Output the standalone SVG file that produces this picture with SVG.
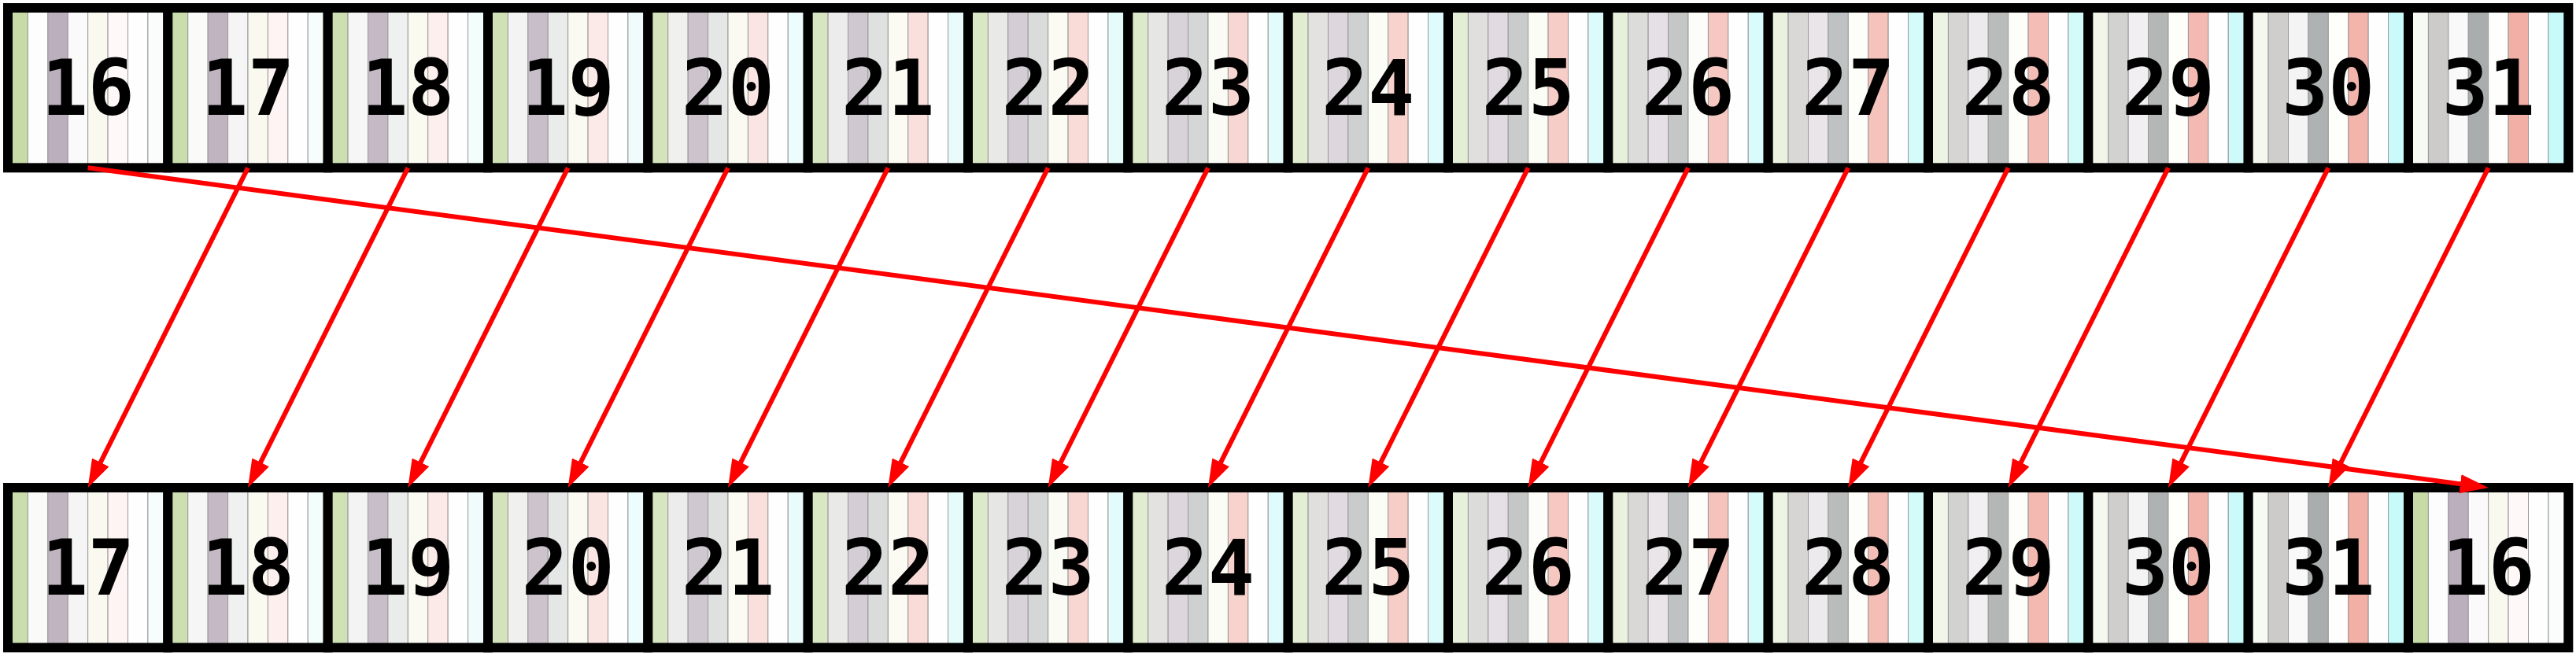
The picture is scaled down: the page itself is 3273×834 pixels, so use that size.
<svg xmlns="http://www.w3.org/2000/svg" xmlns:xlink="http://www.w3.org/1999/xlink" width="3273" height="834" viewBox="0 0 3273 834">
<style>
.st rect{stroke:#999999;stroke-width:1}
.cell{fill:none;stroke:#000000;stroke-width:12}
.lbl{font-family:"DejaVu Sans Mono","Liberation Mono",monospace;font-weight:bold;font-size:98px;fill:#000000;text-anchor:middle}
.conn line{stroke:#ff0000;stroke-width:6;fill:none;marker-end:url(#ah)}
</style>
<defs>
<marker id="ah" markerUnits="userSpaceOnUse" markerWidth="36" markerHeight="24" refX="16" refY="12" orient="auto" viewBox="0 0 36 24"><path d="M0,0 L36,12 L0,24 Z" fill="#ff0000"/></marker>
<g id="s16" class="st"><rect x="0" width="25.417" height="203.333" fill="#c7dba7"/><rect x="25.417" width="25.417" height="203.333" fill="#fdfdfd"/><rect x="50.833" width="25.417" height="203.333" fill="#bcafbd"/><rect x="76.25" width="25.417" height="203.333" fill="#fafafa"/><rect x="101.667" width="25.417" height="203.333" fill="#f9f9ef"/><rect x="127.083" width="25.417" height="203.333" fill="#fef9f8"/><rect x="152.5" width="25.417" height="203.333" fill="#fefefe"/><rect x="177.917" width="25.417" height="203.333" fill="#fafdfc"/></g>
<g id="s17" class="st"><rect x="0" width="25.417" height="203.333" fill="#caddac"/><rect x="25.417" width="25.417" height="203.333" fill="#fafaf9"/><rect x="50.833" width="25.417" height="203.333" fill="#c0b4c1"/><rect x="76.25" width="25.417" height="203.333" fill="#f5f5f5"/><rect x="101.667" width="25.417" height="203.333" fill="#f9f9f0"/><rect x="127.083" width="25.417" height="203.333" fill="#fdf4f3"/><rect x="152.5" width="25.417" height="203.333" fill="#fefefe"/><rect x="177.917" width="25.417" height="203.333" fill="#f7fdfc"/></g>
<g id="s18" class="st"><rect x="0" width="25.417" height="203.333" fill="#cddfb1"/><rect x="25.417" width="25.417" height="203.333" fill="#f7f6f6"/><rect x="50.833" width="25.417" height="203.333" fill="#c4b9c5"/><rect x="76.25" width="25.417" height="203.333" fill="#eff0f0"/><rect x="101.667" width="25.417" height="203.333" fill="#fafaf1"/><rect x="127.083" width="25.417" height="203.333" fill="#fcefed"/><rect x="152.5" width="25.417" height="203.333" fill="#fefefe"/><rect x="177.917" width="25.417" height="203.333" fill="#f3fdfc"/></g>
<g id="s19" class="st"><rect x="0" width="25.417" height="203.333" fill="#d1e1b6"/><rect x="25.417" width="25.417" height="203.333" fill="#f3f3f3"/><rect x="50.833" width="25.417" height="203.333" fill="#c8bec9"/><rect x="76.25" width="25.417" height="203.333" fill="#eaebeb"/><rect x="101.667" width="25.417" height="203.333" fill="#fafaf2"/><rect x="127.083" width="25.417" height="203.333" fill="#fceae8"/><rect x="152.5" width="25.417" height="203.333" fill="#fefefe"/><rect x="177.917" width="25.417" height="203.333" fill="#f0fcfc"/></g>
<g id="s20" class="st"><rect x="0" width="25.417" height="203.333" fill="#d4e3bb"/><rect x="25.417" width="25.417" height="203.333" fill="#f0f0ef"/><rect x="50.833" width="25.417" height="203.333" fill="#ccc3cd"/><rect x="76.25" width="25.417" height="203.333" fill="#e5e6e6"/><rect x="101.667" width="25.417" height="203.333" fill="#fafaf3"/><rect x="127.083" width="25.417" height="203.333" fill="#fbe5e2"/><rect x="152.5" width="25.417" height="203.333" fill="#fefefe"/><rect x="177.917" width="25.417" height="203.333" fill="#edfcfc"/></g>
<g id="s21" class="st"><rect x="0" width="25.417" height="203.333" fill="#d7e5c0"/><rect x="25.417" width="25.417" height="203.333" fill="#edecec"/><rect x="50.833" width="25.417" height="203.333" fill="#d0c8d1"/><rect x="76.25" width="25.417" height="203.333" fill="#dfe0e0"/><rect x="101.667" width="25.417" height="203.333" fill="#fbfbf3"/><rect x="127.083" width="25.417" height="203.333" fill="#fae0dd"/><rect x="152.5" width="25.417" height="203.333" fill="#fefefe"/><rect x="177.917" width="25.417" height="203.333" fill="#e9fcfb"/></g>
<g id="s22" class="st"><rect x="0" width="25.417" height="203.333" fill="#dae7c5"/><rect x="25.417" width="25.417" height="203.333" fill="#e9e9e8"/><rect x="50.833" width="25.417" height="203.333" fill="#d4cdd5"/><rect x="76.25" width="25.417" height="203.333" fill="#dadbdb"/><rect x="101.667" width="25.417" height="203.333" fill="#fbfbf4"/><rect x="127.083" width="25.417" height="203.333" fill="#f9dbd7"/><rect x="152.5" width="25.417" height="203.333" fill="#fefefe"/><rect x="177.917" width="25.417" height="203.333" fill="#e6fcfb"/></g>
<g id="s23" class="st"><rect x="0" width="25.417" height="203.333" fill="#dde9cb"/><rect x="25.417" width="25.417" height="203.333" fill="#e6e6e5"/><rect x="50.833" width="25.417" height="203.333" fill="#d8d2d9"/><rect x="76.25" width="25.417" height="203.333" fill="#d5d6d6"/><rect x="101.667" width="25.417" height="203.333" fill="#fbfbf5"/><rect x="127.083" width="25.417" height="203.333" fill="#f8d7d2"/><rect x="152.5" width="25.417" height="203.333" fill="#fefefe"/><rect x="177.917" width="25.417" height="203.333" fill="#e3fcfb"/></g>
<g id="s24" class="st"><rect x="0" width="25.417" height="203.333" fill="#e1ecd0"/><rect x="25.417" width="25.417" height="203.333" fill="#e3e2e1"/><rect x="50.833" width="25.417" height="203.333" fill="#ddd7dd"/><rect x="76.25" width="25.417" height="203.333" fill="#cfd1d1"/><rect x="101.667" width="25.417" height="203.333" fill="#fcfcf6"/><rect x="127.083" width="25.417" height="203.333" fill="#f8d2cc"/><rect x="152.5" width="25.417" height="203.333" fill="#fefefe"/><rect x="177.917" width="25.417" height="203.333" fill="#dffbfb"/></g>
<g id="s25" class="st"><rect x="0" width="25.417" height="203.333" fill="#e4eed5"/><rect x="25.417" width="25.417" height="203.333" fill="#e0dfde"/><rect x="50.833" width="25.417" height="203.333" fill="#e1dbe1"/><rect x="76.25" width="25.417" height="203.333" fill="#cacccc"/><rect x="101.667" width="25.417" height="203.333" fill="#fcfcf7"/><rect x="127.083" width="25.417" height="203.333" fill="#f7cdc7"/><rect x="152.5" width="25.417" height="203.333" fill="#fefefe"/><rect x="177.917" width="25.417" height="203.333" fill="#dcfbfb"/></g>
<g id="s26" class="st"><rect x="0" width="25.417" height="203.333" fill="#e7f0da"/><rect x="25.417" width="25.417" height="203.333" fill="#dcdcda"/><rect x="50.833" width="25.417" height="203.333" fill="#e5e0e5"/><rect x="76.25" width="25.417" height="203.333" fill="#c5c7c7"/><rect x="101.667" width="25.417" height="203.333" fill="#fcfcf8"/><rect x="127.083" width="25.417" height="203.333" fill="#f6c8c1"/><rect x="152.5" width="25.417" height="203.333" fill="#fefefe"/><rect x="177.917" width="25.417" height="203.333" fill="#d9fbfb"/></g>
<g id="s27" class="st"><rect x="0" width="25.417" height="203.333" fill="#eaf2df"/><rect x="25.417" width="25.417" height="203.333" fill="#d9d8d7"/><rect x="50.833" width="25.417" height="203.333" fill="#e9e5e9"/><rect x="76.25" width="25.417" height="203.333" fill="#bfc2c2"/><rect x="101.667" width="25.417" height="203.333" fill="#fdfdf9"/><rect x="127.083" width="25.417" height="203.333" fill="#f5c3bc"/><rect x="152.5" width="25.417" height="203.333" fill="#fefefe"/><rect x="177.917" width="25.417" height="203.333" fill="#d5fbfb"/></g>
<g id="s28" class="st"><rect x="0" width="25.417" height="203.333" fill="#edf4e4"/><rect x="25.417" width="25.417" height="203.333" fill="#d6d5d3"/><rect x="50.833" width="25.417" height="203.333" fill="#edeaed"/><rect x="76.25" width="25.417" height="203.333" fill="#babcbc"/><rect x="101.667" width="25.417" height="203.333" fill="#fdfdf9"/><rect x="127.083" width="25.417" height="203.333" fill="#f4beb6"/><rect x="152.5" width="25.417" height="203.333" fill="#fefefe"/><rect x="177.917" width="25.417" height="203.333" fill="#d2fbfa"/></g>
<g id="s29" class="st"><rect x="0" width="25.417" height="203.333" fill="#f1f6e9"/><rect x="25.417" width="25.417" height="203.333" fill="#d2d2d0"/><rect x="50.833" width="25.417" height="203.333" fill="#f1eff1"/><rect x="76.25" width="25.417" height="203.333" fill="#b5b7b7"/><rect x="101.667" width="25.417" height="203.333" fill="#fdfdfa"/><rect x="127.083" width="25.417" height="203.333" fill="#f4b9b1"/><rect x="152.5" width="25.417" height="203.333" fill="#fefefe"/><rect x="177.917" width="25.417" height="203.333" fill="#cffafa"/></g>
<g id="s30" class="st"><rect x="0" width="25.417" height="203.333" fill="#f4f8ee"/><rect x="25.417" width="25.417" height="203.333" fill="#cfcecc"/><rect x="50.833" width="25.417" height="203.333" fill="#f5f4f5"/><rect x="76.25" width="25.417" height="203.333" fill="#afb2b2"/><rect x="101.667" width="25.417" height="203.333" fill="#fefefb"/><rect x="127.083" width="25.417" height="203.333" fill="#f3b4ac"/><rect x="152.5" width="25.417" height="203.333" fill="#fefefe"/><rect x="177.917" width="25.417" height="203.333" fill="#cbfafa"/></g>
<g id="s31" class="st"><rect x="0" width="25.417" height="203.333" fill="#f7faf3"/><rect x="25.417" width="25.417" height="203.333" fill="#cccbc9"/><rect x="50.833" width="25.417" height="203.333" fill="#f9f9f9"/><rect x="76.25" width="25.417" height="203.333" fill="#aaadad"/><rect x="101.667" width="25.417" height="203.333" fill="#fefefc"/><rect x="127.083" width="25.417" height="203.333" fill="#f2afa6"/><rect x="152.5" width="25.417" height="203.333" fill="#fefefe"/><rect x="177.917" width="25.417" height="203.333" fill="#c8fafa"/></g>
</defs>
<rect x="0" y="0" width="3273" height="834" fill="#ffffff"/>
<g id="top-row">
<g id="top-16"><use href="#s16" x="10" y="10"/><text class="lbl" x="111.667" y="145.7">16</text><rect class="cell" x="10" y="10" width="203.333" height="203.333"/></g>
<g id="top-17"><use href="#s17" x="213.333" y="10"/><text class="lbl" x="315" y="145.7">17</text><rect class="cell" x="213.333" y="10" width="203.333" height="203.333"/></g>
<g id="top-18"><use href="#s18" x="416.667" y="10"/><text class="lbl" x="518.333" y="145.7">18</text><rect class="cell" x="416.667" y="10" width="203.333" height="203.333"/></g>
<g id="top-19"><use href="#s19" x="620" y="10"/><text class="lbl" x="721.667" y="145.7">19</text><rect class="cell" x="620" y="10" width="203.333" height="203.333"/></g>
<g id="top-20"><use href="#s20" x="823.333" y="10"/><text class="lbl" x="925" y="145.7">20</text><rect class="cell" x="823.333" y="10" width="203.333" height="203.333"/></g>
<g id="top-21"><use href="#s21" x="1026.667" y="10"/><text class="lbl" x="1128.333" y="145.7">21</text><rect class="cell" x="1026.667" y="10" width="203.333" height="203.333"/></g>
<g id="top-22"><use href="#s22" x="1230" y="10"/><text class="lbl" x="1331.667" y="145.7">22</text><rect class="cell" x="1230" y="10" width="203.333" height="203.333"/></g>
<g id="top-23"><use href="#s23" x="1433.333" y="10"/><text class="lbl" x="1535" y="145.7">23</text><rect class="cell" x="1433.333" y="10" width="203.333" height="203.333"/></g>
<g id="top-24"><use href="#s24" x="1636.667" y="10"/><text class="lbl" x="1738.333" y="145.7">24</text><rect class="cell" x="1636.667" y="10" width="203.333" height="203.333"/></g>
<g id="top-25"><use href="#s25" x="1840" y="10"/><text class="lbl" x="1941.667" y="145.7">25</text><rect class="cell" x="1840" y="10" width="203.333" height="203.333"/></g>
<g id="top-26"><use href="#s26" x="2043.333" y="10"/><text class="lbl" x="2145" y="145.7">26</text><rect class="cell" x="2043.333" y="10" width="203.333" height="203.333"/></g>
<g id="top-27"><use href="#s27" x="2246.667" y="10"/><text class="lbl" x="2348.333" y="145.7">27</text><rect class="cell" x="2246.667" y="10" width="203.333" height="203.333"/></g>
<g id="top-28"><use href="#s28" x="2450" y="10"/><text class="lbl" x="2551.667" y="145.7">28</text><rect class="cell" x="2450" y="10" width="203.333" height="203.333"/></g>
<g id="top-29"><use href="#s29" x="2653.333" y="10"/><text class="lbl" x="2755" y="145.7">29</text><rect class="cell" x="2653.333" y="10" width="203.333" height="203.333"/></g>
<g id="top-30"><use href="#s30" x="2856.667" y="10"/><text class="lbl" x="2958.333" y="145.7">30</text><rect class="cell" x="2856.667" y="10" width="203.333" height="203.333"/></g>
<g id="top-31"><use href="#s31" x="3060" y="10"/><text class="lbl" x="3161.667" y="145.7">31</text><rect class="cell" x="3060" y="10" width="203.333" height="203.333"/></g>
</g>
<g id="bottom-row">
<g id="bot-17"><use href="#s17" x="10" y="620"/><text class="lbl" x="111.667" y="755.7">17</text><rect class="cell" x="10" y="620" width="203.333" height="203.333"/></g>
<g id="bot-18"><use href="#s18" x="213.333" y="620"/><text class="lbl" x="315" y="755.7">18</text><rect class="cell" x="213.333" y="620" width="203.333" height="203.333"/></g>
<g id="bot-19"><use href="#s19" x="416.667" y="620"/><text class="lbl" x="518.333" y="755.7">19</text><rect class="cell" x="416.667" y="620" width="203.333" height="203.333"/></g>
<g id="bot-20"><use href="#s20" x="620" y="620"/><text class="lbl" x="721.667" y="755.7">20</text><rect class="cell" x="620" y="620" width="203.333" height="203.333"/></g>
<g id="bot-21"><use href="#s21" x="823.333" y="620"/><text class="lbl" x="925" y="755.7">21</text><rect class="cell" x="823.333" y="620" width="203.333" height="203.333"/></g>
<g id="bot-22"><use href="#s22" x="1026.667" y="620"/><text class="lbl" x="1128.333" y="755.7">22</text><rect class="cell" x="1026.667" y="620" width="203.333" height="203.333"/></g>
<g id="bot-23"><use href="#s23" x="1230" y="620"/><text class="lbl" x="1331.667" y="755.7">23</text><rect class="cell" x="1230" y="620" width="203.333" height="203.333"/></g>
<g id="bot-24"><use href="#s24" x="1433.333" y="620"/><text class="lbl" x="1535" y="755.7">24</text><rect class="cell" x="1433.333" y="620" width="203.333" height="203.333"/></g>
<g id="bot-25"><use href="#s25" x="1636.667" y="620"/><text class="lbl" x="1738.333" y="755.7">25</text><rect class="cell" x="1636.667" y="620" width="203.333" height="203.333"/></g>
<g id="bot-26"><use href="#s26" x="1840" y="620"/><text class="lbl" x="1941.667" y="755.7">26</text><rect class="cell" x="1840" y="620" width="203.333" height="203.333"/></g>
<g id="bot-27"><use href="#s27" x="2043.333" y="620"/><text class="lbl" x="2145" y="755.7">27</text><rect class="cell" x="2043.333" y="620" width="203.333" height="203.333"/></g>
<g id="bot-28"><use href="#s28" x="2246.667" y="620"/><text class="lbl" x="2348.333" y="755.7">28</text><rect class="cell" x="2246.667" y="620" width="203.333" height="203.333"/></g>
<g id="bot-29"><use href="#s29" x="2450" y="620"/><text class="lbl" x="2551.667" y="755.7">29</text><rect class="cell" x="2450" y="620" width="203.333" height="203.333"/></g>
<g id="bot-30"><use href="#s30" x="2653.333" y="620"/><text class="lbl" x="2755" y="755.7">30</text><rect class="cell" x="2653.333" y="620" width="203.333" height="203.333"/></g>
<g id="bot-31"><use href="#s31" x="2856.667" y="620"/><text class="lbl" x="2958.333" y="755.7">31</text><rect class="cell" x="2856.667" y="620" width="203.333" height="203.333"/></g>
<g id="bot-16"><use href="#s16" x="3060" y="620"/><text class="lbl" x="3161.667" y="755.7">16</text><rect class="cell" x="3060" y="620" width="203.333" height="203.333"/></g>
</g>
<g id="connectors" class="conn">
<line x1="315" y1="213.333" x2="120.61" y2="602.11"/>
<line x1="518.333" y1="213.333" x2="323.94" y2="602.11"/>
<line x1="721.667" y1="213.333" x2="527.27" y2="602.11"/>
<line x1="925" y1="213.333" x2="730.61" y2="602.11"/>
<line x1="1128.333" y1="213.333" x2="933.94" y2="602.11"/>
<line x1="1331.667" y1="213.333" x2="1137.27" y2="602.11"/>
<line x1="1535" y1="213.333" x2="1340.61" y2="602.11"/>
<line x1="1738.333" y1="213.333" x2="1543.94" y2="602.11"/>
<line x1="1941.667" y1="213.333" x2="1747.27" y2="602.11"/>
<line x1="2145" y1="213.333" x2="1950.61" y2="602.11"/>
<line x1="2348.333" y1="213.333" x2="2153.94" y2="602.11"/>
<line x1="2551.667" y1="213.333" x2="2357.27" y2="602.11"/>
<line x1="2755" y1="213.333" x2="2560.61" y2="602.11"/>
<line x1="2958.333" y1="213.333" x2="2763.94" y2="602.11"/>
<line x1="3161.667" y1="213.333" x2="2967.27" y2="602.11"/>
<line x1="111.667" y1="213.333" x2="3141.85" y2="617.36"/>
</g>
</svg>
